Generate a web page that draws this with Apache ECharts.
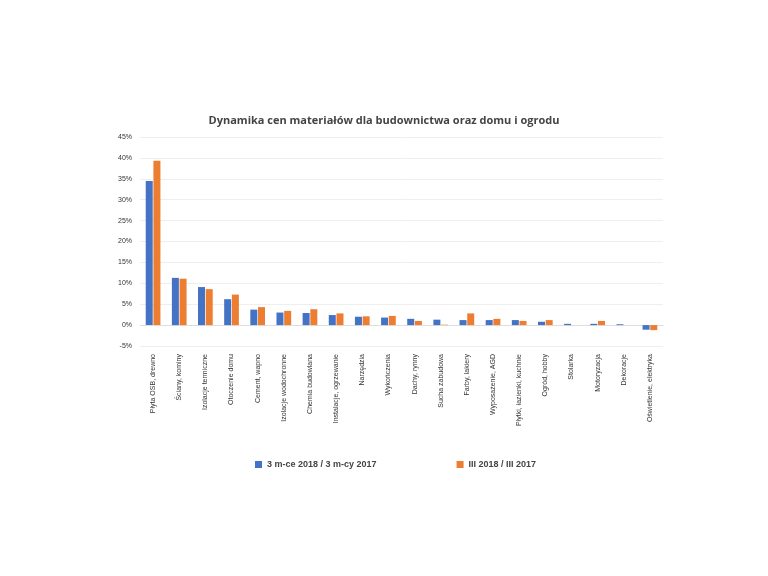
<!DOCTYPE html><html><head><meta charset="utf-8"><script src="https://cdn.jsdelivr.net/npm/echarts@6/dist/echarts.min.js"></script>
<style>body{margin:0;background:#fff}#c{width:768px;height:576px}</style></head><body><div id="c"></div><script>
const categories=["Płyta OSB, drewno","Ściany, kominy","Izolacje termiczne","Otoczenie domu","Cement, wapno","Izolacje wodochronne","Chemia budowlana","Instalacje, ogrzewanie","Narzędzia","Wykończenia","Dachy, rynny","Sucha zabudowa","Farby, lakiery","Wyposażenie, AGD","Płytki, łazienki, kuchnie","Ogród, hobby","Stolarka","Motoryzacja","Dekoracje","Oświetlenie, elektryka"];
const s1=[34.5,11.3,9.1,6.2,3.7,3.0,2.9,2.4,2.0,1.8,1.5,1.3,1.2,1.2,1.2,0.8,0.3,0.3,0.2,-1.1];
const s2=[39.3,11.1,8.6,7.3,4.3,3.4,3.8,2.8,2.1,2.2,1.0,0.1,2.8,1.5,1.0,1.2,0.0,1.0,0.0,-1.2];
const ticks=[-5,0,5,10,15,20,25,30,35,40,45];
const c=echarts.init(document.getElementById('c'));
c.setOption({
title:{text:'Dynamika cen materiałów dla budownictwa oraz domu i ogrodu',left:'center',top:110,textStyle:{fontSize:11,fontWeight:'bold',color:'#444',fontFamily:'Open Sans'}},
legend:{bottom:102,left:250,itemGap:80,itemWidth:7,itemHeight:7,icon:'rect',textStyle:{fontSize:9,fontWeight:'bold',color:'#444'},data:['3 m-ce 2018 / 3 m-cy 2017','III 2018 / III 2017']},
grid:{left:140,right:105,top:137,bottom:230},
xAxis:{type:'category',data:categories,axisTick:{show:false},axisLine:{lineStyle:{color:'#ddd'}},axisLabel:{rotate:90,fontSize:7,color:'#333',interval:0}},
yAxis:{type:'value',min:-5,max:45,interval:5,axisLabel:{formatter:'{value}%',fontSize:7,color:'#333'},splitLine:{lineStyle:{color:'#eee'}}},
series:[{name:'3 m-ce 2018 / 3 m-cy 2017',type:'bar',data:s1,itemStyle:{color:'#4472c4'},barWidth:7,barGap:'10%'},
{name:'III 2018 / III 2017',type:'bar',data:s2,itemStyle:{color:'#ed7d31'},barWidth:7}]
});
</script></body></html>
